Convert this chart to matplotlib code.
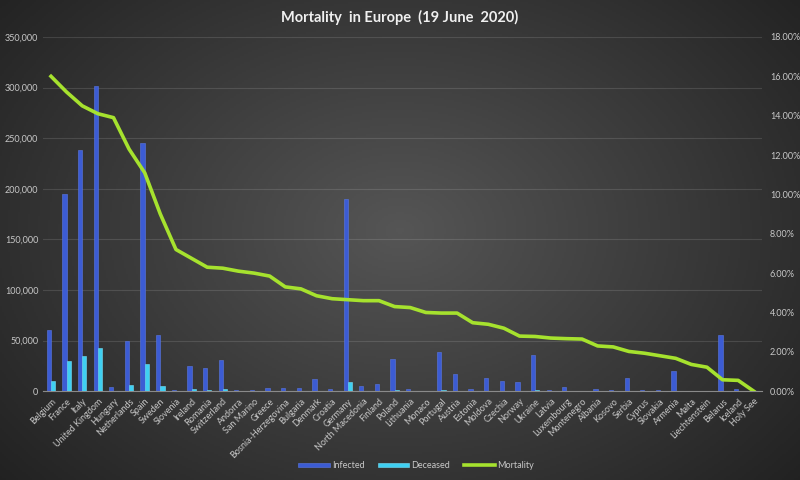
import numpy as np
import matplotlib
matplotlib.use("Agg")
import matplotlib.pyplot as plt
from matplotlib.ticker import FuncFormatter

plt.rcParams['font.family'] = ['Lato', 'DejaVu Sans']

# data (19 June 2020)
countries = ['Belgium', 'France', 'Italy', 'United Kingdom', 'Hungary', 'Netherlands', 'Spain',
             'Sweden', 'Slovenia', 'Ireland', 'Romania', 'Switzerland', 'Andorra', 'San Marino',
             'Greece', 'Bosnia-Herzegovina', 'Bulgaria', 'Denmark', 'Croatia', 'Germany',
             'North Macedonia', 'Finland', 'Poland', 'Lithuania', 'Monaco', 'Portugal', 'Austria',
             'Estonia', 'Moldova', 'Czechia', 'Norway', 'Ukraine', 'Latvia', 'Luxembourg',
             'Montenegro', 'Albania', 'Kosovo', 'Serbia', 'Cyprus', 'Slovakia', 'Armenia', 'Malta',
             'Liechtenstein', 'Belarus', 'Iceland', 'Holy See']
infected = [60550, 194800, 238000, 301800, 4100, 49500, 245300, 56000, 1500, 25300, 22800,
            31200, 850, 700, 3200, 3100, 3450, 12400, 2270, 190300, 4800, 7100, 31600, 1780,
            100, 38500, 17300, 1980, 13100, 10300, 8700, 35800, 1110, 4120, 340, 1720, 1460,
            12600, 990, 1560, 19700, 660, 80, 56000, 1820, 12]
deceased = [9700, 29600, 34600, 42500, 570, 6100, 27100, 5050, 110, 1710, 1440, 1960, 52, 42,
            188, 165, 181, 600, 107, 8900, 225, 327, 1360, 76, 4, 1530, 690, 69, 444, 330, 244,
            995, 30, 110, 9, 40, 33, 255, 19, 28, 330, 9, 1, 324, 10, 0]
mortality = [16.0, 15.2, 14.5, 14.1, 13.9, 12.3, 11.1, 9.0, 7.2, 6.75, 6.3, 6.25, 6.1, 6.0,
             5.85, 5.3, 5.2, 4.85, 4.7, 4.65, 4.6, 4.6, 4.3, 4.25, 4.0, 3.97, 3.97, 3.48, 3.4,
             3.2, 2.8, 2.78, 2.7, 2.67, 2.65, 2.3, 2.25, 2.02, 1.93, 1.8, 1.67, 1.36, 1.22,
             0.58, 0.55, 0.0]

fig = plt.figure(figsize=(8, 4.8), dpi=100)

# dark radial background, lighter in the middle
bg = fig.add_axes([0, 0, 1, 1], zorder=-10)
yy, xx = np.mgrid[0:1:240j, 0:1:400j]
r = np.sqrt(((xx - 0.5) / 0.75) ** 2 + ((yy - 0.48) / 0.9) ** 2)
shade = np.clip(0.335 - 0.23 * r, 0.12, 0.34)
bg.imshow(np.dstack([shade, shade, shade]), aspect='auto', extent=[0, 1, 0, 1], origin='upper')
bg.axis('off')

ax = fig.add_axes([0.054, 0.185, 0.898, 0.738])
ax.patch.set_alpha(0)
x = np.arange(len(countries))
w = 0.27
ax.bar(x - w / 2, infected, w, color='#3c5cd4', edgecolor='#5b78e2', linewidth=0.4,
       label='Infected', zorder=3)
ax.bar(x + w / 2, deceased, w, color='#3fd0f2', edgecolor='#74def6', linewidth=0.4,
       label='Deceased', zorder=3)
ax.set_xlim(-0.5, len(countries) - 0.5)
ax.set_ylim(0, 350000)
ax.set_yticks(np.arange(0, 350001, 50000))
ax.yaxis.set_major_formatter(FuncFormatter(lambda v, p: f'{int(v):,}'))
ax.grid(axis='y', color='white', alpha=0.12, linewidth=0.8, zorder=0)
ax.set_xticks(x)
ax.set_xticklabels(countries, rotation=45, ha='right', rotation_mode='anchor')
ax.tick_params(colors='#c8c8c8', labelsize=6.5, length=0)
ax.tick_params(axis='x', pad=4)
for s in ['top', 'left', 'right']:
    ax.spines[s].set_visible(False)
ax.spines['bottom'].set_color('#8a8a8a')

ax2 = ax.twinx()
ax2.plot(x, np.array(mortality) / 100, color='#a6e22e', linewidth=2.6, label='Mortality',
         zorder=4)
ax2.set_ylim(0, 0.18)
ax2.set_yticks(np.arange(0, 0.1801, 0.02))
ax2.yaxis.set_major_formatter(FuncFormatter(lambda v, p: f'{v * 100:.2f}%'))
ax2.tick_params(colors='#c8c8c8', labelsize=6.5, length=0, pad=6)
for s in ax2.spines.values():
    s.set_visible(False)

fig.text(0.5, 0.963, 'Mortality  in Europe  (19 June  2020)', ha='center', va='center',
         color='#f0f0f0', fontsize=10.5, fontweight='bold')

h1, l1 = ax.get_legend_handles_labels()
h2, l2 = ax2.get_legend_handles_labels()
leg = fig.legend(h1 + h2, l1 + l2, loc='center', bbox_to_anchor=(0.52, 0.03), ncol=3,
                 frameon=False, fontsize=6.5, handlelength=3.5, handleheight=0.4,
                 columnspacing=1.5, handletextpad=0.2)
for t in leg.get_texts():
    t.set_color('#c8c8c8')

fig.savefig('out.png', dpi=100)
